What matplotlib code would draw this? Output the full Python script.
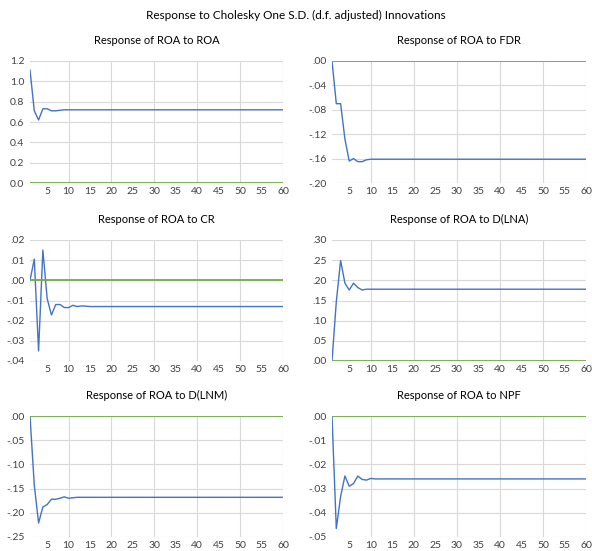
import numpy as np
import matplotlib
matplotlib.use("Agg")
import matplotlib.pyplot as plt
from matplotlib.ticker import FuncFormatter

plt.rcParams['font.family'] = ['Lato', 'DejaVu Sans']

periods = np.arange(1, 61)

# impulse responses (first periods, then the settled level)
resp_roa = [1.11, 0.71, 0.62, 0.73, 0.73, 0.71, 0.71, 0.715, 0.72, 0.72] + [0.72] * 50
resp_fdr = [0.0, -0.07, -0.07, -0.128, -0.164, -0.160, -0.165, -0.165, -0.162, -0.161] + [-0.161] * 50
resp_cr = [0.0, 0.0105, -0.035, 0.015, -0.009, -0.0172, -0.012, -0.012, -0.0135, -0.0135,
           -0.0124, -0.013, -0.0127, -0.0128] + [-0.013] * 46
resp_lna = [0.0, 0.147, 0.249, 0.193, 0.176, 0.193, 0.182, 0.176, 0.178, 0.178] + [0.178] * 50
resp_lnm = [0.0, -0.143, -0.221, -0.188, -0.183, -0.172, -0.172, -0.170, -0.167, -0.170,
            -0.169, -0.168] + [-0.168] * 48
resp_npf = [0.0, -0.0465, -0.0333, -0.0248, -0.029, -0.0279, -0.0248, -0.0262, -0.0265, -0.0258,
            -0.026] + [-0.026] * 49

titles = ["Response of ROA to ROA", "Response of ROA to FDR",
          "Response of ROA to CR", "Response of ROA to D(LNA)",
          "Response of ROA to D(LNM)", "Response of ROA to NPF"]
series = [resp_roa, resp_fdr, resp_cr, resp_lna, resp_lnm, resp_npf]
y_ranges = [(0.0, 1.2, 0.2), (-0.20, 0.0, 0.04), (-0.04, 0.02, 0.01),
            (0.0, 0.30, 0.05), (-0.25, 0.0, 0.05), (-0.05, 0.0, 0.01)]

W, H = 592, 551
col_x = [(30, 283), (332, 586)]
row_y = [(61, 183), (240, 361), (416, 537)]

BLUE = "#4472C4"
GREEN = "#70AD47"
GRID = "#D9D9D9"


def fmt_one(v, pos):
    return "%.1f" % v


def fmt_two(v, pos):
    s = "%.2f" % v
    if abs(v) < 1e-9:
        return ".00"
    return s.replace("0.", ".")


fig = plt.figure(figsize=(W / 100, H / 100), dpi=100)
fig.text(0.5, 1 - 15 / H, "Response to Cholesky One S.D. (d.f. adjusted) Innovations",
         ha="center", va="center", fontsize=8.5)

for k in range(6):
    r, c = divmod(k, 2)
    x0, x1 = col_x[c]
    y0, y1 = row_y[r]
    ax = fig.add_axes([x0 / W, 1 - y1 / H, (x1 - x0) / W, (y1 - y0) / H])
    lo, hi, step = y_ranges[k]
    yt = np.arange(lo, hi + step / 2, step)
    ax.set_ylim(lo, hi)
    ax.set_yticks(yt)
    ax.set_xlim(1, 60)
    ax.set_xticks(np.arange(5, 61, 5))
    ax.yaxis.set_major_formatter(FuncFormatter(fmt_one if k == 0 else fmt_two))

    for v in yt:
        ax.axhline(v, color=GRID, lw=0.8, zorder=0)
    for v in np.arange(10, 61, 10):
        ax.axvline(v, color=GRID, lw=0.8, zorder=0)

    ax.plot(periods, series[k], color=BLUE, lw=1.0, zorder=3)
    ax.axhline(0, color=GREEN, lw=1.3, zorder=4)

    for s in ax.spines.values():
        s.set_visible(False)
    ax.tick_params(length=0, labelsize=7.5, colors="#404040", pad=4)
    ax.tick_params(axis="x", pad=3)
    ax.set_title(titles[k], fontsize=8, pad=12)

fig.savefig("out.png", dpi=100)
